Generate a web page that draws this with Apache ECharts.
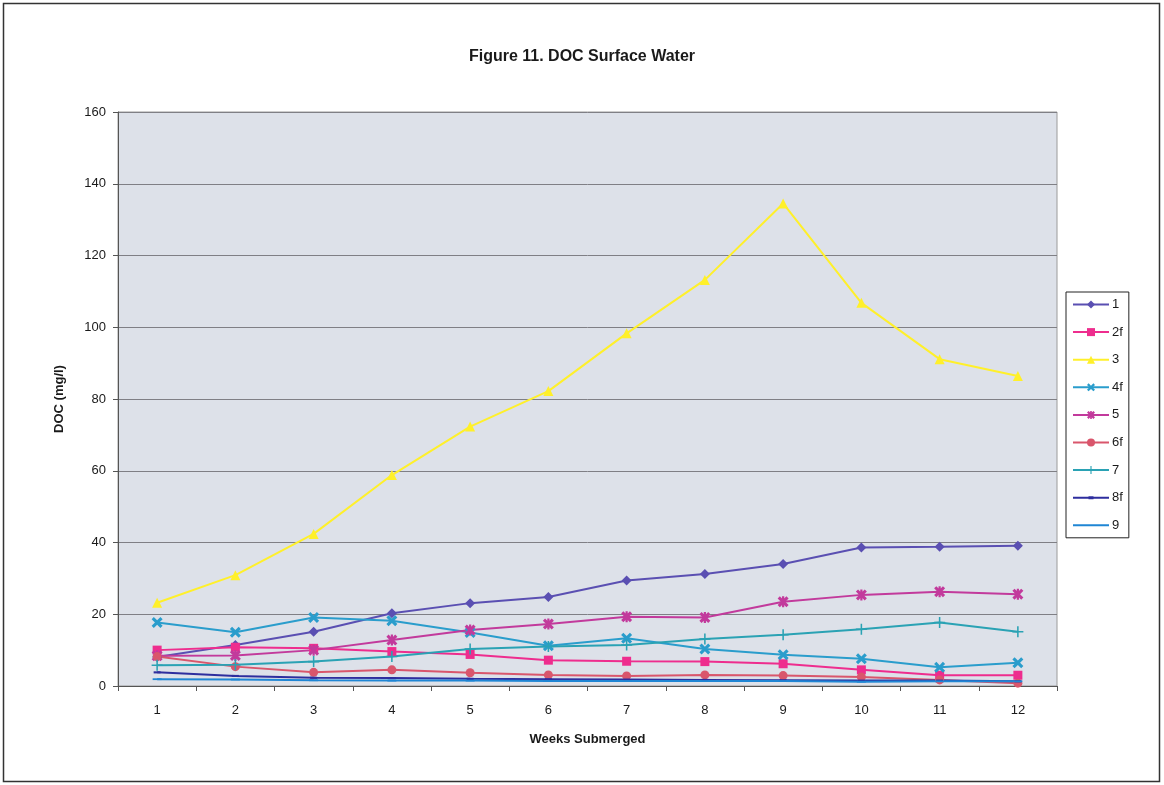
<!DOCTYPE html>
<html>
<head>
<meta charset="utf-8">
<script src="https://cdn.jsdelivr.net/npm/echarts@6/dist/echarts.min.js"></script>
<style>
  html, body { margin: 0; padding: 0; background: #ffffff; }
  #chart { width: 1164px; height: 785px; }
</style>
</head>
<body>
<div id="chart"></div>
<script>
// Weeks on the x axis
const weeks = ['1', '2', '3', '4', '5', '6', '7', '8', '9', '10', '11', '12'];

// DOC (mg/l) per site, one value per week
const site1  = [8.1, 11.4, 15.1, 20.3, 23.1, 24.8, 29.4, 31.2, 34.0, 38.6, 38.8, 39.1];
const site2f = [10.0, 10.8, 10.5, 9.6, 8.8, 7.2, 6.9, 6.8, 6.2, 4.5, 3.0, 3.0];
const site3  = [23.2, 30.9, 42.4, 58.8, 72.3, 82.2, 98.3, 113.2, 134.5, 106.8, 91.1, 86.4];
const site4f = [17.7, 15.0, 19.1, 18.2, 14.9, 11.2, 13.3, 10.3, 8.7, 7.6, 5.2, 6.5];
const site5  = [8.4, 8.5, 10.0, 12.8, 15.6, 17.3, 19.3, 19.1, 23.5, 25.4, 26.3, 25.6];
const site6f = [8.2, 5.4, 3.8, 4.5, 3.7, 3.1, 2.8, 3.1, 2.9, 2.5, 1.7, 0.8];
const site7  = [5.8, 5.9, 6.8, 8.2, 10.3, 11.0, 11.4, 13.1, 14.3, 15.8, 17.7, 15.1];
const site8f = [3.8, 2.8, 2.3, 2.2, 2.0, 1.9, 1.8, 1.7, 1.6, 1.5, 1.5, 1.3];
const site9  = [1.9, 1.8, 1.6, 1.5, 1.5, 1.4, 1.4, 1.4, 1.4, 1.2, 1.3, 1.3];

const seriesNames = ['1', '2f', '3', '4f', '5', '6f', '7', '8f', '9'];
const seriesData = [site1, site2f, site3, site4f, site5, site6f, site7, site8f, site9];

// marker shapes
const SYM_X = 'path://M2,0L5,3L8,0L10,2L7,5L10,8L8,10L5,7L2,10L0,8L3,5L0,2Z';
const SYM_PLUS = 'path://M4.3,0H5.7V4.3H10V5.7H5.7V10H4.3V5.7H0V4.3H4.3Z';
const SYM_STAR = 'path://M2,0L5,3L8,0L10,2L7,5L10,8L8,10L5,7L2,10L0,8L3,5L0,2Z M4,0H6V10H4Z';
const SYM_DASH = 'path://M0,0H10V3H0Z';
const SYM_THIN = 'path://M0,0H10V2H0Z';

// legend keys for the flat-marker sites: line with a small bar in the middle
const KEY_8F = 'path://M0,4H15.5V3.5H20.5V4H36V6H20.5V6.5H15.5V6H0Z';
const KEY_9 = 'path://M0,4H36V6H0Z';

const styles = [
  { color: '#5a4fb2', symbol: 'diamond',  size: 10, keep: false },
  { color: '#ee2d8e', symbol: 'rect',     size: 9,  keep: false },
  { color: '#fff02a', symbol: 'triangle', size: 10, keep: false },
  { color: '#2a9dcc', symbol: SYM_X,      size: 11, keep: false },
  { color: '#c23a9c', symbol: SYM_STAR,   size: 11, keep: false },
  { color: '#d9566c', symbol: 'circle',   size: 9,  keep: false },
  { color: '#2aa2b4', symbol: SYM_PLUS,   size: 11, keep: false },
  { color: '#2e2e9e', symbol: SYM_DASH,   size: 7,  keep: true },
  { color: '#1f86d4', symbol: SYM_THIN,   size: 9,  keep: true }
];

const series = seriesNames.map((name, i) => ({
  name: name,
  type: 'line',
  data: seriesData[i],
  symbol: styles[i].symbol,
  symbolSize: styles[i].size,
  symbolKeepAspect: styles[i].keep,
  showAllSymbol: true,
  lineStyle: { color: styles[i].color, width: 2 },
  itemStyle: { color: styles[i].color },
  emphasis: { disabled: true },
  animation: false
}));

const legendItems = seriesNames.map((name) => {
  if (name === '8f') return { name: name, icon: KEY_8F };
  if (name === '9') return { name: name, icon: KEY_9 };
  return { name: name };
});

const chart = echarts.init(document.getElementById('chart'), null, { renderer: 'canvas' });

chart.setOption({
  backgroundColor: '#ffffff',
  animation: false,
  title: {
    text: 'Figure 11. DOC Surface Water',
    left: 'center',
    top: 44,
    textStyle: { fontFamily: 'Liberation Sans, Arial, sans-serif', fontSize: 16, fontWeight: 'bold', color: '#1a1a1a' }
  },
  grid: {
    left: 118, top: 112, width: 939, height: 574,
    show: true,
    backgroundColor: '#dde1e9',
    borderColor: '#9a9a9a',
    borderWidth: 1
  },
  legend: {
    orient: 'vertical',
    left: 1066, top: 292,
    width: 65,
    data: legendItems,
    padding: [6, 6, 6, 6],
    itemWidth: 36, itemHeight: 10, itemGap: 14.6,
    symbolKeepAspect: true,
    borderColor: '#222', borderWidth: 1,
    backgroundColor: '#ffffff',
    textStyle: { fontFamily: 'Liberation Sans, Arial, sans-serif', fontSize: 13, color: '#1a1a1a', padding: [0, 0, 0, -2] },
    selectedMode: false
  },
  xAxis: {
    type: 'category',
    data: weeks,
    boundaryGap: true,
    name: 'Weeks Submerged',
    nameLocation: 'middle',
    nameGap: 47,
    nameTextStyle: { fontFamily: 'Liberation Sans, Arial, sans-serif', fontSize: 13, fontWeight: 'bold', color: '#1a1a1a' },
    axisLine: { lineStyle: { color: '#555', width: 1 } },
    axisTick: { show: true, length: 5, lineStyle: { color: '#555' } },
    axisLabel: { margin: 18, fontFamily: 'Liberation Sans, Arial, sans-serif', fontSize: 13, color: '#1a1a1a' },
    splitLine: { show: false }
  },
  yAxis: {
    type: 'value',
    min: 0, max: 160, interval: 20,
    name: 'DOC (mg/l)',
    nameLocation: 'middle',
    nameRotate: 90,
    nameGap: 52,
    nameTextStyle: { fontFamily: 'Liberation Sans, Arial, sans-serif', fontSize: 13, fontWeight: 'bold', color: '#1a1a1a' },
    axisLine: { show: true, lineStyle: { color: '#555', width: 1 } },
    axisTick: { show: true, length: 5, lineStyle: { color: '#555' } },
    axisLabel: { margin: 12, fontFamily: 'Liberation Sans, Arial, sans-serif', fontSize: 13, color: '#1a1a1a' },
    splitLine: { show: true, lineStyle: { color: '#7f7f85', width: 1 } }
  },
  graphic: [{
    type: 'rect',
    shape: { x: 3.5, y: 3.5, width: 1156, height: 778 },
    style: { fill: 'none', stroke: '#333', lineWidth: 1.5 },
    silent: true
  }],
  series: series
});
</script>
</body>
</html>
